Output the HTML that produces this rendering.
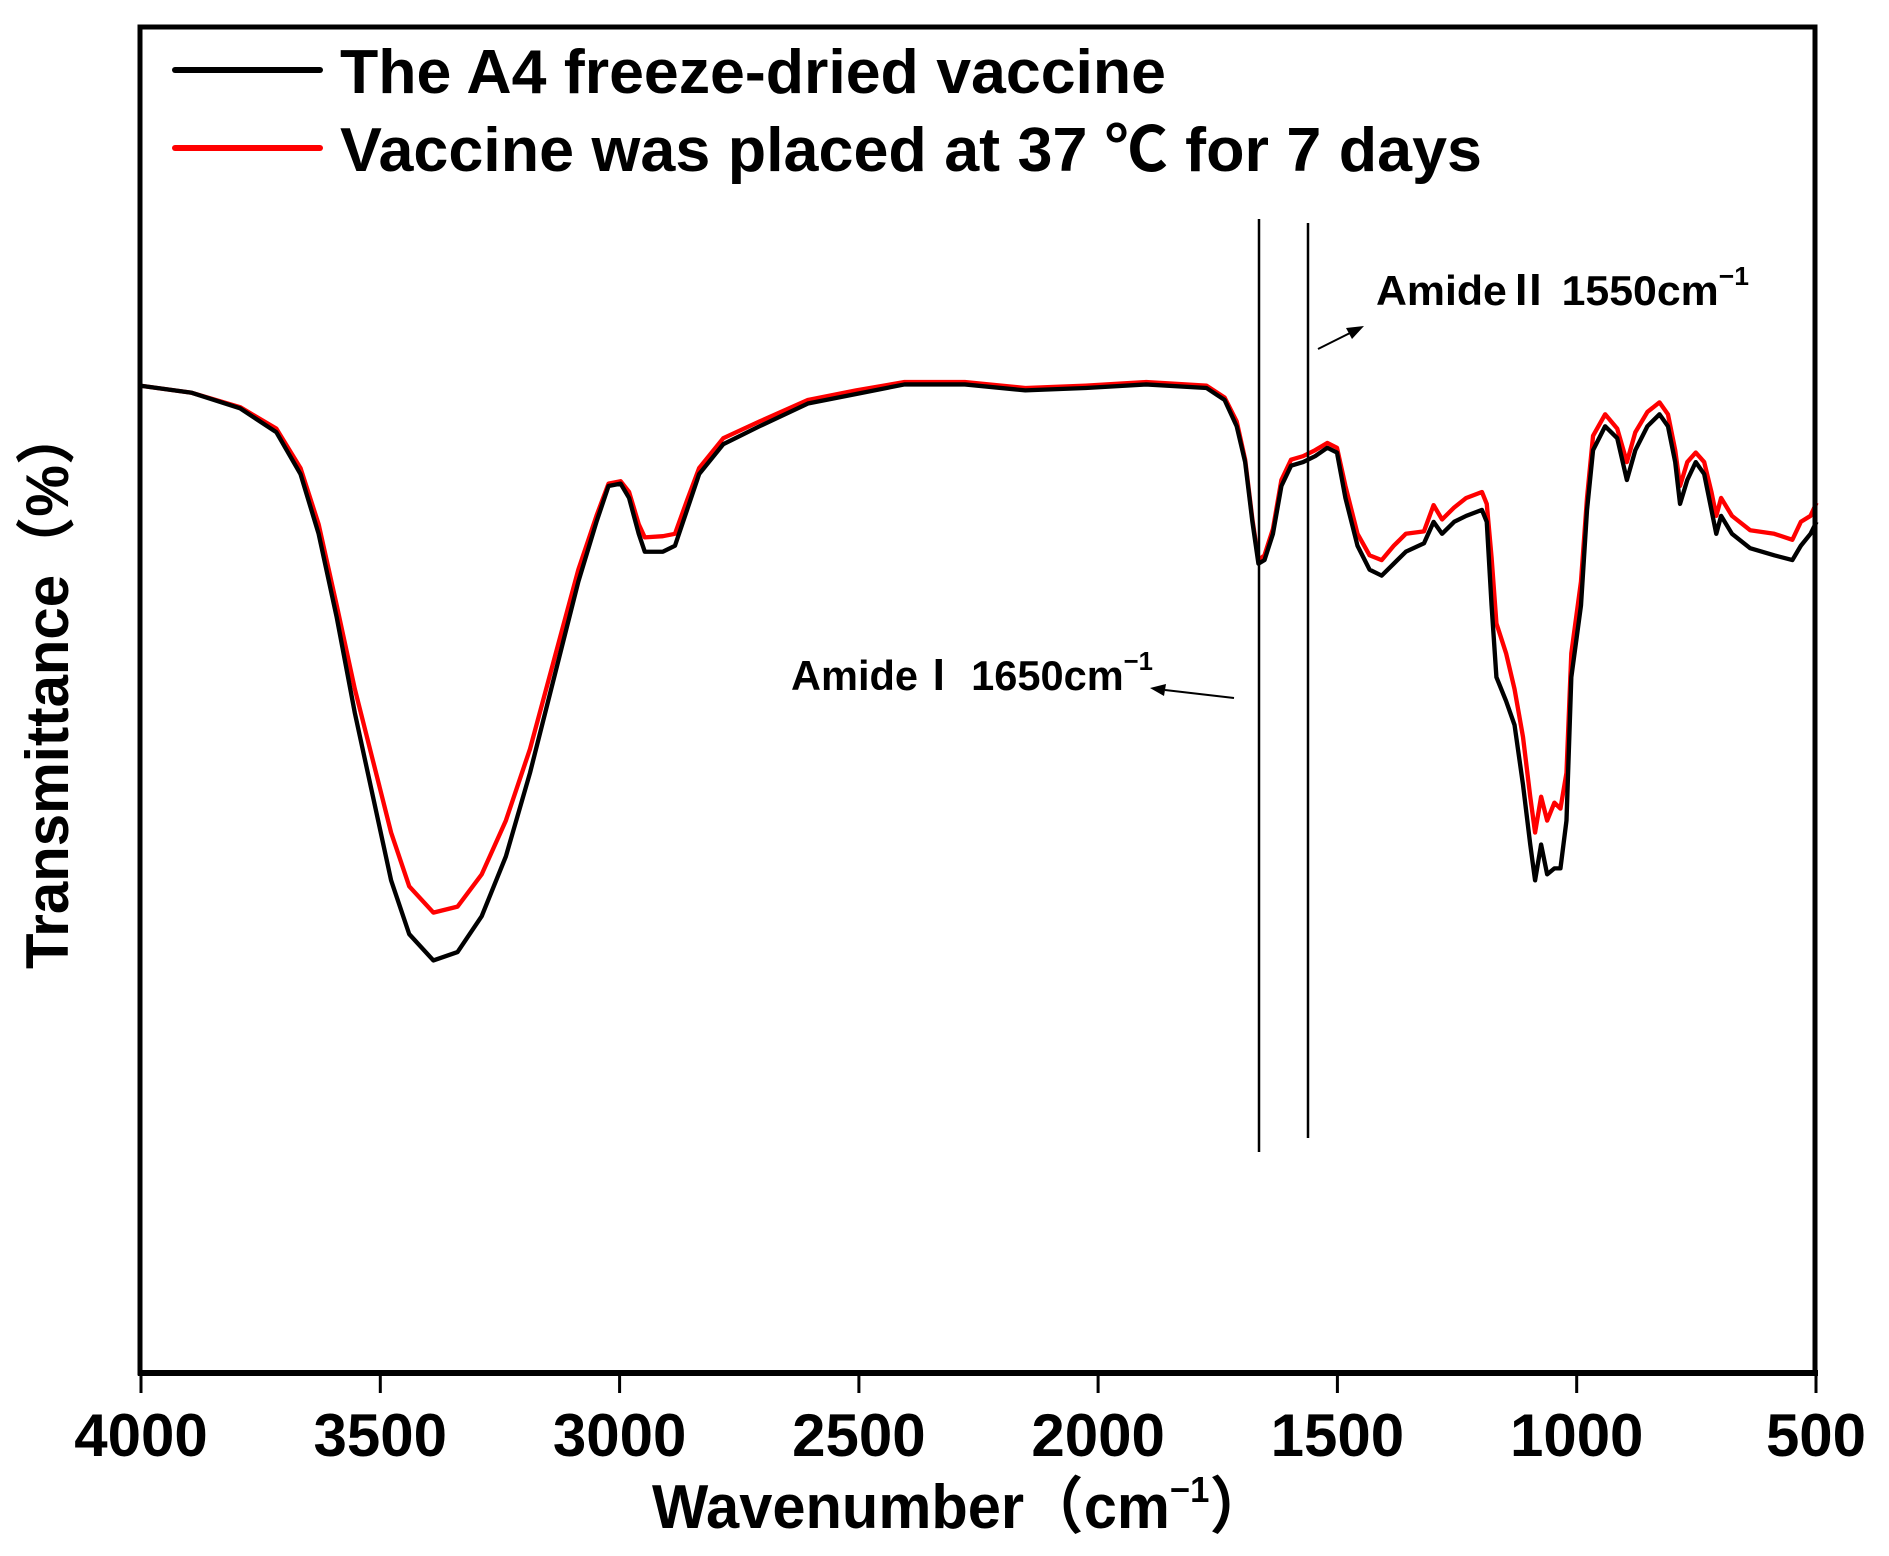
<!DOCTYPE html>
<html><head><meta charset="utf-8"><style>
html,body{margin:0;padding:0;background:#fff;}
svg{display:block;}
text{font-family:"Liberation Sans","Noto Sans CJK SC",sans-serif;font-weight:bold;fill:#000;}
</style></head><body>
<svg width="1889" height="1556" viewBox="0 0 1889 1556" xmlns="http://www.w3.org/2000/svg">
<rect width="1889" height="1556" fill="#fff"/>
<g transform="matrix(1.208,0,0,1.195,-1.5,8)" fill="none" stroke-linejoin="round">
<polyline stroke="#f00" stroke-width="3.6" points="117,316 160,322 200,334 230,352 250,385 265,432 280,500 295,570 310,630 325,690 340,735 360,757 380,752 400,725 420,680 440,620 460,545 480,470 495,425 505,398 515,396 522,405 530,432 535,443 550,442 560,440 570,412 580,385 600,360 630,346 670,328 710,320 750,313 800,313 850,318 900,316 950,313 1000,316 1015,326 1025,346 1032,378 1038,428 1043,462 1048,458 1055,436 1062,395 1070,378 1080,375 1090,370 1100,364 1108,368 1115,400 1125,440 1135,458 1145,462 1155,450 1165,440 1180,438 1188,416 1195,428 1205,418 1215,410 1228,405 1232,415 1236,460 1240,515 1248,540 1255,570 1262,610 1268,660 1272,690 1277,660 1282,680 1288,665 1293,670 1298,640 1302,540 1310,480 1315,410 1320,358 1330,340 1340,352 1348,380 1355,355 1365,338 1375,330 1382,340 1388,370 1392,400 1398,380 1405,372 1412,380 1418,405 1422,425 1426,410 1435,425 1450,437 1470,440 1485,445 1492,430 1500,425 1505,414"/>
<polyline stroke="#000" stroke-width="3.6" points="117,316 160,322 200,335 230,355 250,390 265,440 280,510 295,590 310,660 325,730 340,775 360,797 380,790 400,760 420,710 440,640 460,560 480,480 495,430 505,400 515,398 522,410 530,440 535,455 550,455 560,450 570,420 580,390 600,365 630,350 670,331 710,323 750,315 800,315 850,320 900,318 950,315 1000,318 1015,328 1025,350 1032,380 1038,430 1043,465 1048,462 1055,440 1062,400 1070,383 1080,380 1090,375 1100,368 1108,372 1115,410 1125,450 1135,470 1145,475 1155,465 1165,455 1180,448 1188,430 1195,440 1205,430 1215,425 1228,420 1232,430 1236,500 1240,560 1248,580 1255,600 1262,650 1268,700 1272,730 1277,700 1282,725 1288,720 1293,720 1298,680 1302,560 1310,500 1315,420 1320,370 1330,350 1340,360 1348,395 1355,370 1365,350 1375,340 1382,350 1388,380 1392,415 1398,395 1405,380 1412,390 1418,420 1422,440 1426,425 1435,440 1450,452 1470,458 1485,462 1492,450 1500,440 1505,430"/>
</g>
<rect x="140" y="27" width="1675" height="1346" fill="none" stroke="#000" stroke-width="5"/>
<line x1="138" y1="1373" x2="1818" y2="1373" stroke="#000" stroke-width="6"/>
<g stroke="#000" stroke-width="3">
<line x1="141" y1="1373" x2="141" y2="1393"/><line x1="380.3" y1="1373" x2="380.3" y2="1393"/>
<line x1="619.6" y1="1373" x2="619.6" y2="1393"/><line x1="858.9" y1="1373" x2="858.9" y2="1393"/>
<line x1="1098.1" y1="1373" x2="1098.1" y2="1393"/><line x1="1337.4" y1="1373" x2="1337.4" y2="1393"/>
<line x1="1576.7" y1="1373" x2="1576.7" y2="1393"/><line x1="1816" y1="1373" x2="1816" y2="1393"/>
</g>
<g font-size="60" text-anchor="middle">
<text x="141" y="1456">4000</text><text x="380.3" y="1456">3500</text><text x="619.6" y="1456">3000</text>
<text x="858.9" y="1456">2500</text><text x="1098.1" y="1456">2000</text><text x="1337.4" y="1456">1500</text>
<text x="1576.7" y="1456">1000</text><text x="1816" y="1456">500</text>
</g>
<text x="652" y="1528" font-size="62" textLength="617" lengthAdjust="spacingAndGlyphs">Wavenumber（cm<tspan font-size="36" dy="-26">−1</tspan><tspan dy="26">）</tspan></text>
<text transform="translate(68,969) rotate(-90)" font-size="60" textLength="562" lengthAdjust="spacingAndGlyphs">Transmittance（%）</text>
<line x1="175" y1="70" x2="320" y2="70" stroke="#000" stroke-width="6" stroke-linecap="round"/>
<line x1="175" y1="148" x2="320" y2="148" stroke="#f00" stroke-width="6" stroke-linecap="round"/>
<text x="340" y="93" font-size="62" textLength="826" lengthAdjust="spacingAndGlyphs">The A4 freeze-dried vaccine</text>
<text x="340" y="171" font-size="62" textLength="1142" lengthAdjust="spacingAndGlyphs">Vaccine was placed at 37 ℃ for 7 days</text>
<line x1="1259" y1="219" x2="1259" y2="1152" stroke="#000" stroke-width="2.5"/>
<line x1="1308" y1="223" x2="1308" y2="1138" stroke="#000" stroke-width="2.5"/>
<text x="1376" y="305" font-size="42" textLength="373" lengthAdjust="spacingAndGlyphs">AmideⅡ 1550cm<tspan font-size="26" dy="-20">−1</tspan></text>
<text x="791" y="690" font-size="42" textLength="362" lengthAdjust="spacingAndGlyphs">AmideⅠ 1650cm<tspan font-size="26" dy="-20">−1</tspan></text>
<line x1="1318" y1="349" x2="1352" y2="332" stroke="#000" stroke-width="2"/>
<polygon points="1364,326 1346,328 1352,339" fill="#000"/>
<line x1="1234" y1="698" x2="1165" y2="690" stroke="#000" stroke-width="2"/>
<polygon points="1150,688 1166,684 1164,696" fill="#000"/>
</svg>
</body></html>
